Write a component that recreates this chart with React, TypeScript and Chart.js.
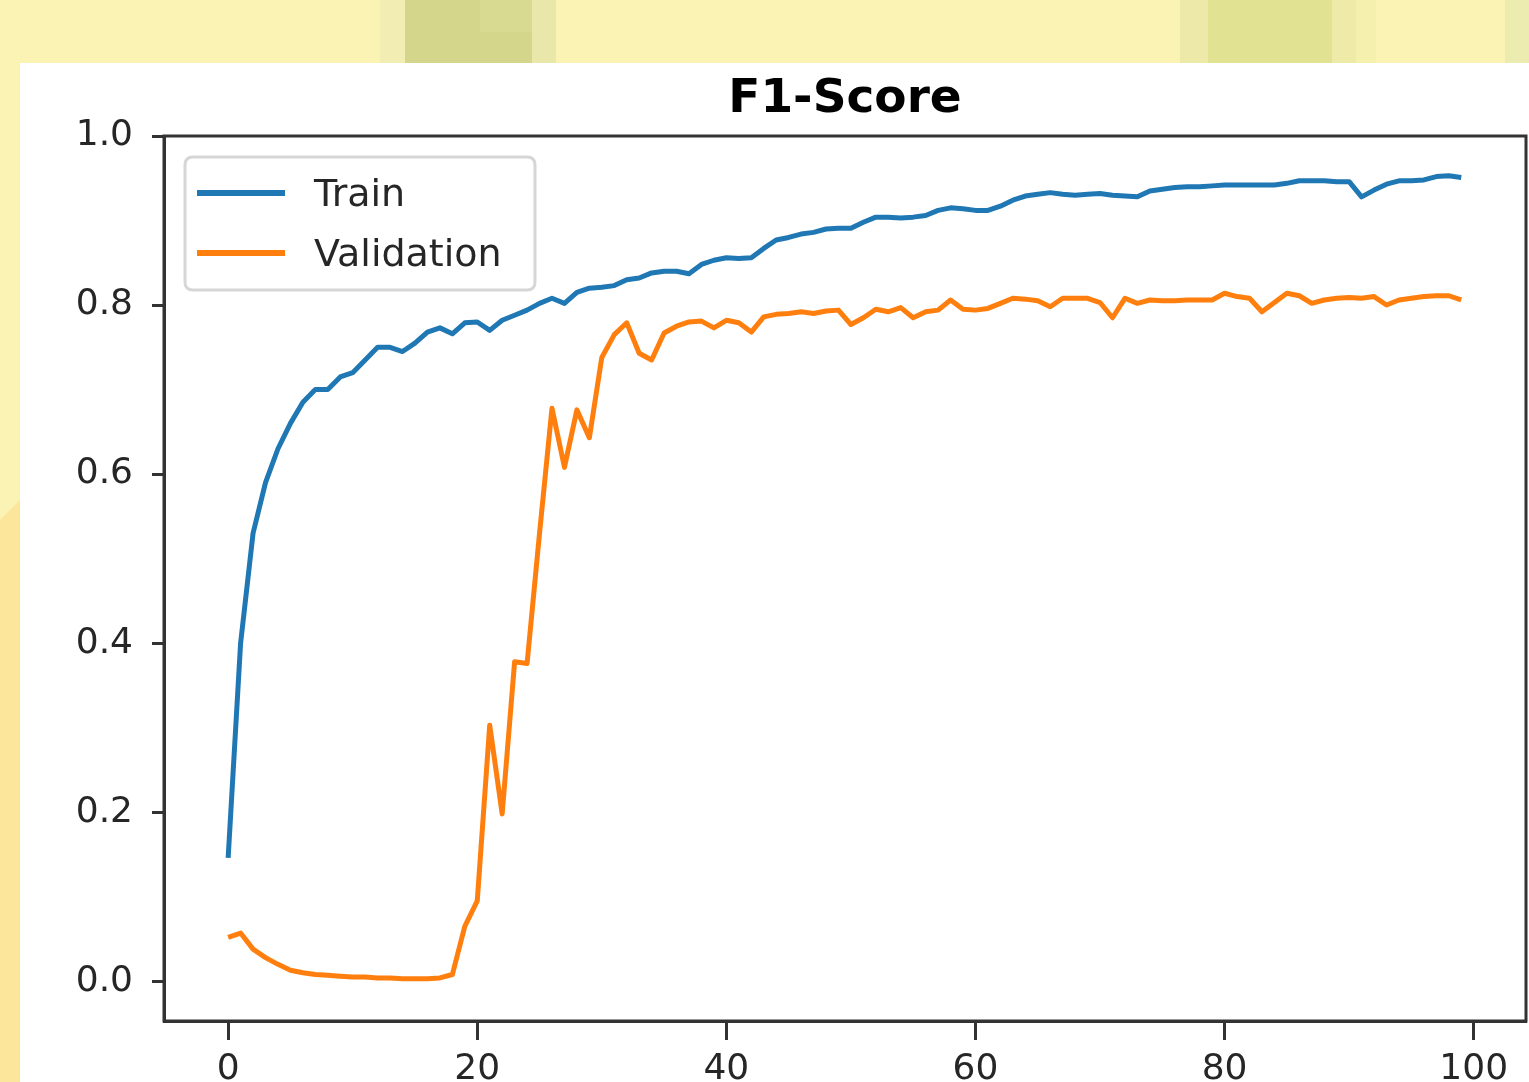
import React, { useEffect, useRef } from "react";
import { Chart, registerables } from "chart.js";

Chart.register(...registerables);

const epochs: number[] = Array.from({ length: 100 }, (_, i) => i);

const trainF1: number[] = [
  0.146, 0.40, 0.53, 0.59, 0.63, 0.66, 0.685, 0.70, 0.70, 0.715,
  0.72, 0.735, 0.75, 0.75, 0.745, 0.755, 0.768, 0.773, 0.766, 0.779,
  0.78, 0.77, 0.782, 0.788, 0.794, 0.802, 0.808, 0.802, 0.815, 0.82,
  0.821, 0.823, 0.83, 0.832, 0.838, 0.84, 0.84, 0.837, 0.848, 0.853,
  0.856, 0.855, 0.856, 0.867, 0.877, 0.88, 0.884, 0.886, 0.89, 0.891,
  0.891, 0.898, 0.904, 0.904, 0.903, 0.904, 0.906, 0.912, 0.915, 0.914,
  0.912, 0.912, 0.917, 0.924, 0.929, 0.931, 0.933, 0.931, 0.93, 0.931,
  0.932, 0.93, 0.929, 0.928, 0.935, 0.937, 0.939, 0.94, 0.94, 0.941,
  0.942, 0.942, 0.942, 0.942, 0.942, 0.944, 0.947, 0.947, 0.947, 0.946,
  0.946, 0.928, 0.936, 0.943, 0.947, 0.947, 0.948, 0.952, 0.953, 0.951,
];

const validationF1: number[] = [
  0.052, 0.057, 0.038, 0.028, 0.02, 0.013, 0.01, 0.008, 0.007, 0.006,
  0.005, 0.005, 0.004, 0.004, 0.003, 0.003, 0.003, 0.004, 0.008, 0.065,
  0.095, 0.303, 0.198, 0.378, 0.376, 0.53, 0.678, 0.608, 0.676, 0.643,
  0.738, 0.765, 0.779, 0.743, 0.735, 0.767, 0.775, 0.78, 0.781, 0.773,
  0.782, 0.779, 0.768, 0.786, 0.789, 0.79, 0.792, 0.79, 0.793, 0.794,
  0.777, 0.785, 0.795, 0.792, 0.797, 0.785, 0.792, 0.794, 0.806, 0.795,
  0.794, 0.796, 0.802, 0.808, 0.807, 0.805, 0.798, 0.808, 0.808, 0.808,
  0.803, 0.785, 0.808, 0.802, 0.806, 0.805, 0.805, 0.806, 0.806, 0.806,
  0.814, 0.81, 0.808, 0.792, 0.803, 0.814, 0.811, 0.802, 0.806, 0.808,
  0.809, 0.808, 0.81, 0.8, 0.806, 0.808, 0.81, 0.811, 0.811, 0.806,
];

const xTicks: number[] = [0, 20, 40, 60, 80, 100];
const yTicks: number[] = [0.0, 0.2, 0.4, 0.6, 0.8, 1.0];
const seriesLabels: string[] = ["Train", "Validation"];
const seriesColors: string[] = ["#1f77b4", "#ff7f0e"];
const titleText = "F1-Score";

const SPINE = "#333333";
const TEXT = "#262626";

const framePlugin = {
  id: "frame",
  afterDraw(chart: any) {
    const { ctx, chartArea } = chart;
    ctx.save();
    ctx.strokeStyle = SPINE;
    ctx.lineWidth = 3;
    ctx.strokeRect(
      chartArea.left,
      chartArea.top,
      chartArea.right - chartArea.left,
      chartArea.bottom - chartArea.top
    );
    ctx.restore();
  },
};

const legendPlugin = {
  id: "innerLegend",
  afterDraw(chart: any) {
    const { ctx, chartArea } = chart;
    const x0 = chartArea.left + 21;
    const y0 = chartArea.top + 21;
    const w = 350;
    const h = 133;
    const r = 8;
    ctx.save();
    ctx.beginPath();
    ctx.moveTo(x0 + r, y0);
    ctx.lineTo(x0 + w - r, y0);
    ctx.quadraticCurveTo(x0 + w, y0, x0 + w, y0 + r);
    ctx.lineTo(x0 + w, y0 + h - r);
    ctx.quadraticCurveTo(x0 + w, y0 + h, x0 + w - r, y0 + h);
    ctx.lineTo(x0 + r, y0 + h);
    ctx.quadraticCurveTo(x0, y0 + h, x0, y0 + h - r);
    ctx.lineTo(x0, y0 + r);
    ctx.quadraticCurveTo(x0, y0, x0 + r, y0);
    ctx.closePath();
    ctx.fillStyle = "rgba(255,255,255,0.8)";
    ctx.fill();
    ctx.strokeStyle = "#d6d6d6";
    ctx.lineWidth = 3;
    ctx.stroke();

    chart.data.datasets.forEach((ds: any, i: number) => {
      const cy = y0 + 36 + i * 60;
      ctx.beginPath();
      ctx.strokeStyle = ds.borderColor;
      ctx.lineWidth = 6;
      ctx.moveTo(x0 + 12, cy);
      ctx.lineTo(x0 + 100, cy);
      ctx.stroke();
      ctx.fillStyle = TEXT;
      ctx.font = '38px "DejaVu Sans"';
      ctx.textAlign = "left";
      ctx.textBaseline = "middle";
      ctx.fillText(ds.label, x0 + 129, cy + 3);
    });
    ctx.restore();
  },
};

export default function App() {
  const canvasRef = useRef<HTMLCanvasElement | null>(null);

  useEffect(() => {
    if (!canvasRef.current) return;
    const datasets = [trainF1, validationF1].map((vals, si) => ({
      label: seriesLabels[si],
      data: vals.map((v, i) => ({ x: epochs[i], y: v })),
      borderColor: seriesColors[si],
      backgroundColor: seriesColors[si],
      borderWidth: 5,
      pointRadius: 0,
      tension: 0,
      borderJoinStyle: "round" as const,
      fill: false,
    }));

    const chart = new Chart(canvasRef.current, {
      type: "line",
      data: { datasets },
      options: {
        animation: false,
        responsive: true,
        maintainAspectRatio: false,
        layout: { padding: { left: 0, right: 3, top: 0, bottom: 0 } },
        plugins: {
          legend: { display: false },
          tooltip: { enabled: false },
          title: {
            display: true,
            text: titleText,
            fullSize: false,
            color: "#000000",
            font: { family: '"DejaVu Sans"', size: 47, weight: "bold" },
            padding: { top: 72, bottom: 7.6 },
          },
        },
        scales: {
          x: {
            type: "linear",
            min: -5.15,
            max: 104.2,
            afterBuildTicks: (scale: any) => {
              scale.ticks = xTicks.map((v) => ({ value: v }));
            },
            afterFit: (scale: any) => {
              scale.height = 61;
            },
            ticks: {
              color: TEXT,
              font: { family: '"DejaVu Sans"', size: 36 },
              padding: 8,
              maxRotation: 0,
              autoSkip: false,
              callback: (v: any) => String(v),
            },
            grid: {
              drawOnChartArea: false,
              drawTicks: true,
              tickLength: 19,
              tickWidth: 3,
              tickColor: SPINE,
            },
            border: { display: true, color: SPINE, width: 3 },
          },
          y: {
            type: "linear",
            min: -0.047,
            max: 1.0,
            afterBuildTicks: (scale: any) => {
              scale.ticks = yTicks.map((v) => ({ value: v }));
            },
            afterFit: (scale: any) => {
              scale.width = 164;
            },
            ticks: {
              color: TEXT,
              font: { family: '"DejaVu Sans"', size: 36 },
              padding: 19,
              autoSkip: false,
              callback: (v: any) => Number(v).toFixed(1),
            },
            grid: {
              drawOnChartArea: false,
              drawTicks: true,
              tickLength: 12,
              tickWidth: 3,
              tickColor: SPINE,
            },
            border: { display: true, color: SPINE, width: 3 },
          },
        },
      },
      plugins: [framePlugin, legendPlugin],
    });
    return () => chart.destroy();
  }, []);

  const patch = (
    left: number,
    top: number,
    width: number,
    height: number,
    color: string
  ): React.CSSProperties => ({
    position: "absolute",
    left,
    top,
    width,
    height,
    background: color,
  });

  return (
    <div
      style={{
        position: "fixed",
        left: 0,
        top: 0,
        width: 1529,
        height: 1082,
        background: "#fbf3b3",
        overflow: "hidden",
      }}
    >
      <div style={patch(380, 0, 25, 63, "#f2edb2")} />
      <div style={patch(405, 0, 127, 63, "#d3d68b")} />
      <div style={patch(480, 0, 52, 32, "#d9da92")} />
      <div style={patch(532, 0, 24, 63, "#e9e8aa")} />
      <div style={patch(1180, 0, 28, 63, "#ede9a8")} />
      <div style={patch(1208, 0, 124, 63, "#e2e392")} />
      <div style={patch(1332, 0, 24, 63, "#eeeaa8")} />
      <div style={patch(1356, 0, 20, 63, "#f6f0ae")} />
      <div style={patch(1505, 0, 24, 63, "#ecebb0")} />
      <div
        style={{
          position: "absolute",
          left: 0,
          top: 500,
          width: 20,
          height: 582,
          background: "#fbe69b",
          clipPath: "polygon(0 20px, 100% 0, 100% 100%, 0 100%)",
        }}
      />
      <div style={patch(20, 63, 1509, 1019, "#ffffff")} />
      <div style={{ position: "absolute", left: 0, top: 0, width: 1529, height: 1082 }}>
        <canvas ref={canvasRef} />
      </div>
    </div>
  );
}
